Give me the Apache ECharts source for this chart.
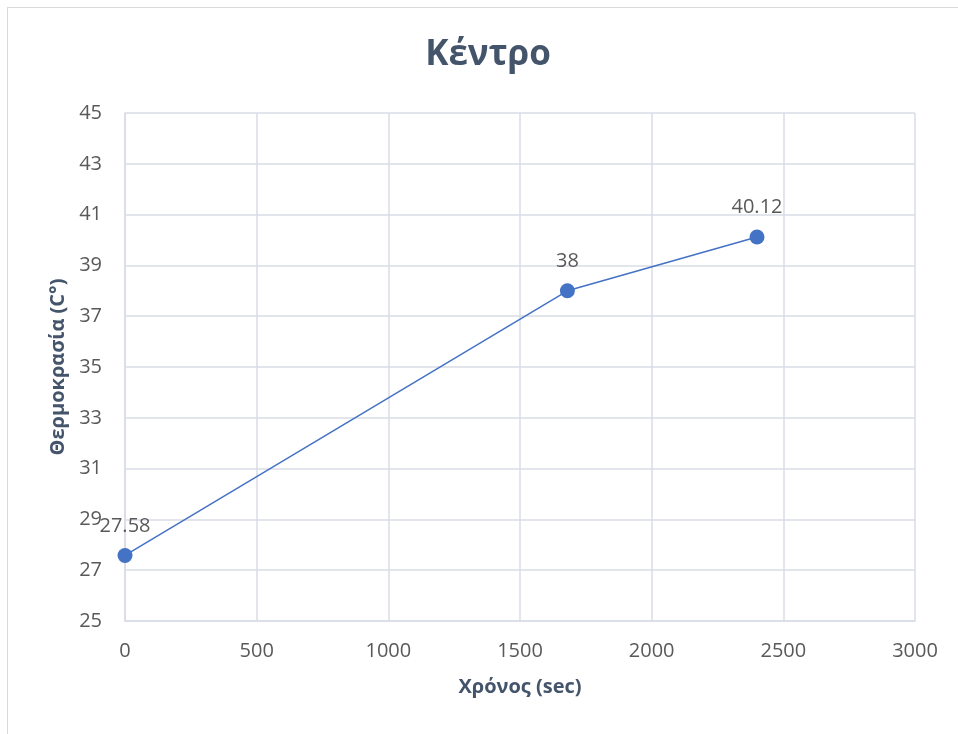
<!DOCTYPE html>
<html>
<head>
<meta charset="utf-8">
<script src="https://cdn.jsdelivr.net/npm/echarts@6/dist/echarts.min.js"></script>
<style>
  html, body { margin: 0; padding: 0; background: #ffffff; }
  #wrap { position: relative; width: 958px; height: 734px; overflow: hidden; }
  #frame { position: absolute; left: 7px; top: 7px; width: 962px; height: 740px; border: 1px solid #d9d9d9; box-sizing: border-box; }
  #chart { position: absolute; left: 0; top: 0; width: 958px; height: 734px; }
</style>
</head>
<body>
<div id="wrap">
  <div id="frame"></div>
  <div id="chart"></div>
</div>
<script>
// Time (s) and temperature (°C) at the centre
const timeSec = [0, 1680, 2400];
const tempC = [27.58, 38, 40.12];

const titleText = 'Κέντρο';
const xName = 'Χρόνος (sec)';
const yName = 'Θερμοκρασία (C°)';

const font = '"Open Sans", "Noto Sans", sans-serif';
const gridColor = '#d9dde6';
const textColor = '#595959';
const nameColor = '#44546a';

const chart = echarts.init(document.getElementById('chart'), null, { renderer: 'canvas' });
chart.setOption({
  backgroundColor: 'transparent',
  animation: false,
  title: {
    text: titleText,
    left: 483,
    textAlign: 'center',
    top: 33,
    textStyle: { fontFamily: font, fontSize: 35, fontWeight: 'bold', color: nameColor }
  },
  grid: { left: 125, right: 43, top: 113, bottom: 113 },
  xAxis: {
    type: 'value',
    min: 0, max: 3000, interval: 500,
    name: xName,
    nameLocation: 'middle',
    nameGap: 56,
    nameTextStyle: { fontFamily: font, fontSize: 20, fontWeight: 'bold', color: nameColor },
    axisLine: { show: true, lineStyle: { color: gridColor, width: 1.5 } },
    axisTick: { show: false },
    axisLabel: { margin: 20, fontFamily: font, fontSize: 20, color: textColor, formatter: v => String(v) },
    splitLine: { show: true, lineStyle: { color: gridColor, width: 1.5 } }
  },
  yAxis: {
    type: 'value',
    min: 25, max: 45, interval: 2,
    name: yName,
    nameLocation: 'middle',
    nameGap: 56,
    nameRotate: 90,
    nameTextStyle: { fontFamily: font, fontSize: 20, fontWeight: 'bold', color: nameColor },
    axisLine: { show: true, lineStyle: { color: gridColor, width: 1.5 } },
    axisTick: { show: false },
    axisLabel: { margin: 23, fontFamily: font, fontSize: 20, color: textColor },
    splitLine: { show: true, lineStyle: { color: gridColor, width: 1.5 } }
  },
  series: [{
    type: 'line',
    data: timeSec.map((t, i) => [t, tempC[i]]),
    symbol: 'circle',
    symbolSize: 15,
    itemStyle: { color: '#4472c4' },
    lineStyle: { color: '#4472c4', width: 1.5 },
    label: {
      show: true,
      position: 'top',
      distance: 12,
      fontFamily: font,
      fontSize: 20,
      color: textColor,
      formatter: p => String(p.value[1])
    }
  }]
});
</script>
</body>
</html>
